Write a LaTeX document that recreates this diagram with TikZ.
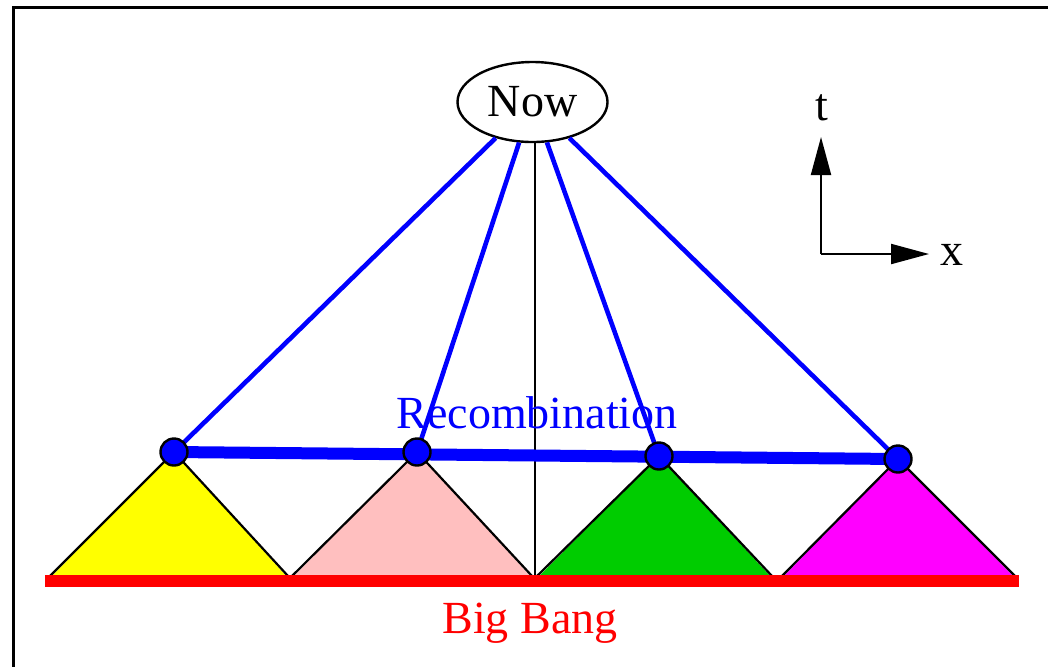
\documentclass[tikz,border=0pt]{standalone}
\usepackage{fontspec}
\setmainfont{Liberation Serif}
\usepackage{xcolor}
\usetikzlibrary{positioning,arrows.meta,shapes.geometric}
\definecolor{sky}{HTML}{0000FF}
\definecolor{bang}{HTML}{FF0000}
\definecolor{conea}{HTML}{FFFF00}
\definecolor{coneb}{HTML}{FFBFBF}
\definecolor{conec}{HTML}{00CC00}
\definecolor{coned}{HTML}{FF00FF}
\tikzset{
  >={Triangle[length=19pt,width=10pt]},
  lbl/.style={font=\fontsize{23}{27}\selectfont, inner sep=0pt, anchor=base},
  now/.style={draw=black, line width=1.2pt, ellipse, fill=white, minimum width=75pt,
              minimum height=40pt, inner sep=0pt, font=\fontsize{23}{27}\selectfont},
  dot/.style={draw=black, line width=1.2pt, circle, fill=sky, minimum size=13.5pt, inner sep=0pt},
  ray/.style={draw=sky, line width=2.3pt},
  side/.style={draw=black, line width=1.1pt},
  axis/.style={->, draw=black, line width=1pt},
}
\begin{document}
\begin{tikzpicture}[x=0.5pt,y=-0.5pt]
  \clip (0,0) rectangle (1048,666);
  \draw[line width=1.5pt] (13,7.5) rectangle (1100,720);
  % light cones of the patches
  \foreach \ax/\ay/\l/\r/\c in {174/452/50/288/conea, 417/452/292/532/coneb,
                                659/456/537/772/conec, 898/459/782/1015/coned}{
    \fill[\c] (\ax,\ay) -- (\l,578) -- (\r,578) -- cycle;
    \draw[side] (\l,576) -- (\ax,\ay) -- (\r,576);
  }
  \coordinate (c1) at (174,452);
  \coordinate (c2) at (417,452);
  \coordinate (c3) at (659,456);
  \coordinate (c4) at (898,459);
  \coordinate (orig) at (535,578);
  \node[now] (nw) at (532.5,102) {Now};
  \draw[side] (nw.south -| orig) -- (orig);
  \draw[ray] (nw) -- (c1);\draw[ray] (nw) -- (c2);\draw[ray] (nw) -- (c3);\draw[ray] (nw) -- (c4);
  \draw[draw=sky, line width=6pt] (c1) -- (c4);
  \node[dot] (r1) at (c1) {};
  \node[dot] (r2) at (c2) {};
  \node[dot] (r3) at (c3) {};
  \node[dot] (r4) at (c4) {};
  \node[lbl, text=sky] (rec) at (537,428) {Recombination};
  % big bang
  \coordinate (bl) at (45,581);
  \coordinate (br) at (1019,581);
  \draw[draw=bang, line width=6pt] (bl) -- (br);
  \node[lbl, text=bang] (bb) at (530,633) {Big Bang};
  % axes
  \coordinate (o) at (821,254);
  \coordinate (tt) at (821,137);
  \coordinate (xx) at (929,254);
  \draw[axis] (o) -- (tt);
  \draw[axis] (o) -- (xx);
  \node[lbl] (tl) at (822,120) {t};
  \node[lbl] (xl) at (952,265) {x};
\end{tikzpicture}
\end{document}
